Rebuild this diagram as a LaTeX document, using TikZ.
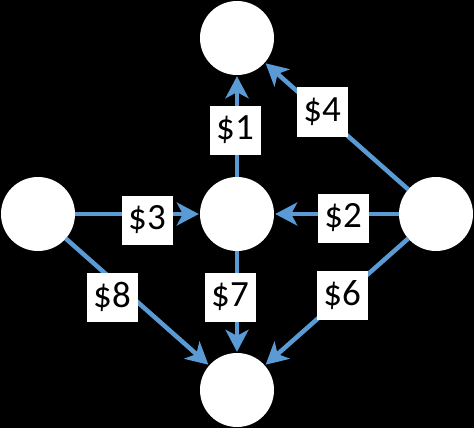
\documentclass[tikz,border=0pt]{standalone}
\usepackage{fontspec}
\setmainfont{Carlito}
\usetikzlibrary{arrows.meta}
\definecolor{edgeblue}{RGB}{91,155,213}
\tikzset{
  vertex/.style={circle, fill=white, draw=none, minimum size=74pt, inner sep=0pt},
  costbox/.style={rectangle, fill=white, draw=none, minimum width=51pt, minimum height=49pt, inner sep=0pt, text=black, font=\fontsize{37}{44}\selectfont},
  flow/.style={draw=edgeblue, line width=4.5pt, -{Stealth[length=22pt, width=23pt, inset=6pt]}, shorten >=1pt}
}
\begin{document}
\begin{tikzpicture}[x=1pt, y=-1pt]
\fill[black] (0,0) rectangle (474,428);
\useasboundingbox (0,0) rectangle (474,428);
\node[vertex] (top) at (237,38) {};
\node[vertex] (left) at (38,214) {};
\node[vertex] (mid) at (237,214) {};
\node[vertex] (right) at (436,214) {};
\node[vertex] (bot) at (237,390) {};
\draw[flow] (mid) -- (top);
\draw[flow] (right) -- (top);
\draw[flow] (left) -- (mid);
\draw[flow] (right) -- (mid);
\draw[flow] (left) -- (bot);
\draw[flow] (mid) -- (bot);
\draw[flow] (right) -- (bot);
\node[costbox] (c1) at (235,130) {\$1};
\node[costbox] (c4) at (322,112) {\$4};
\node[costbox] (c3) at (147,220) {\$3};
\node[costbox] (c2) at (343,218) {\$2};
\node[costbox] (c8) at (112,297) {\$8};
\node[costbox] (c7) at (230,297) {\$7};
\node[costbox] (c6) at (342,295) {\$6};
\end{tikzpicture}
\end{document}
